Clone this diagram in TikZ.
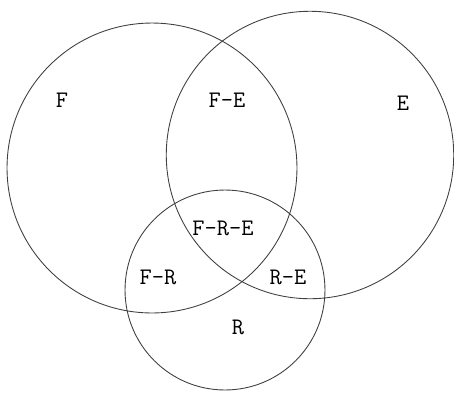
\documentclass[tikz,border=0pt]{standalone}

\begin{document}
\begin{tikzpicture}[x=0.02cm,y=-0.02cm,font=\ttfamily\fontsize{13.5}{14}\selectfont]
  \tikzset{setring/.style={circle,draw=black!75,line width=0.5pt,inner sep=0pt,outer sep=0pt}}
  \useasboundingbox (0,0) rectangle (454,393);
  % ---- the three sets ----
  \node[setring,minimum size=5.8cm] (F) at (152,168) {};
  \node[setring,minimum size=5.75cm] (E) at (310,155) {};
  \node[setring,minimum size=4cm] (R) at (225,290) {};
  % ---- region labels ----
  \node (lF)   at (62,100)  {F};
  \node (lFE)  at (227,100) {F-E};
  \node (lE)   at (403,103) {E};
  \node (lFRE) at (223,228) {F-R-E};
  \node (lFR)  at (158,277) {F-R};
  \node (lRE)  at (288,277) {R-E};
  \node (lR)   at (238,327) {R};
\end{tikzpicture}
\end{document}
